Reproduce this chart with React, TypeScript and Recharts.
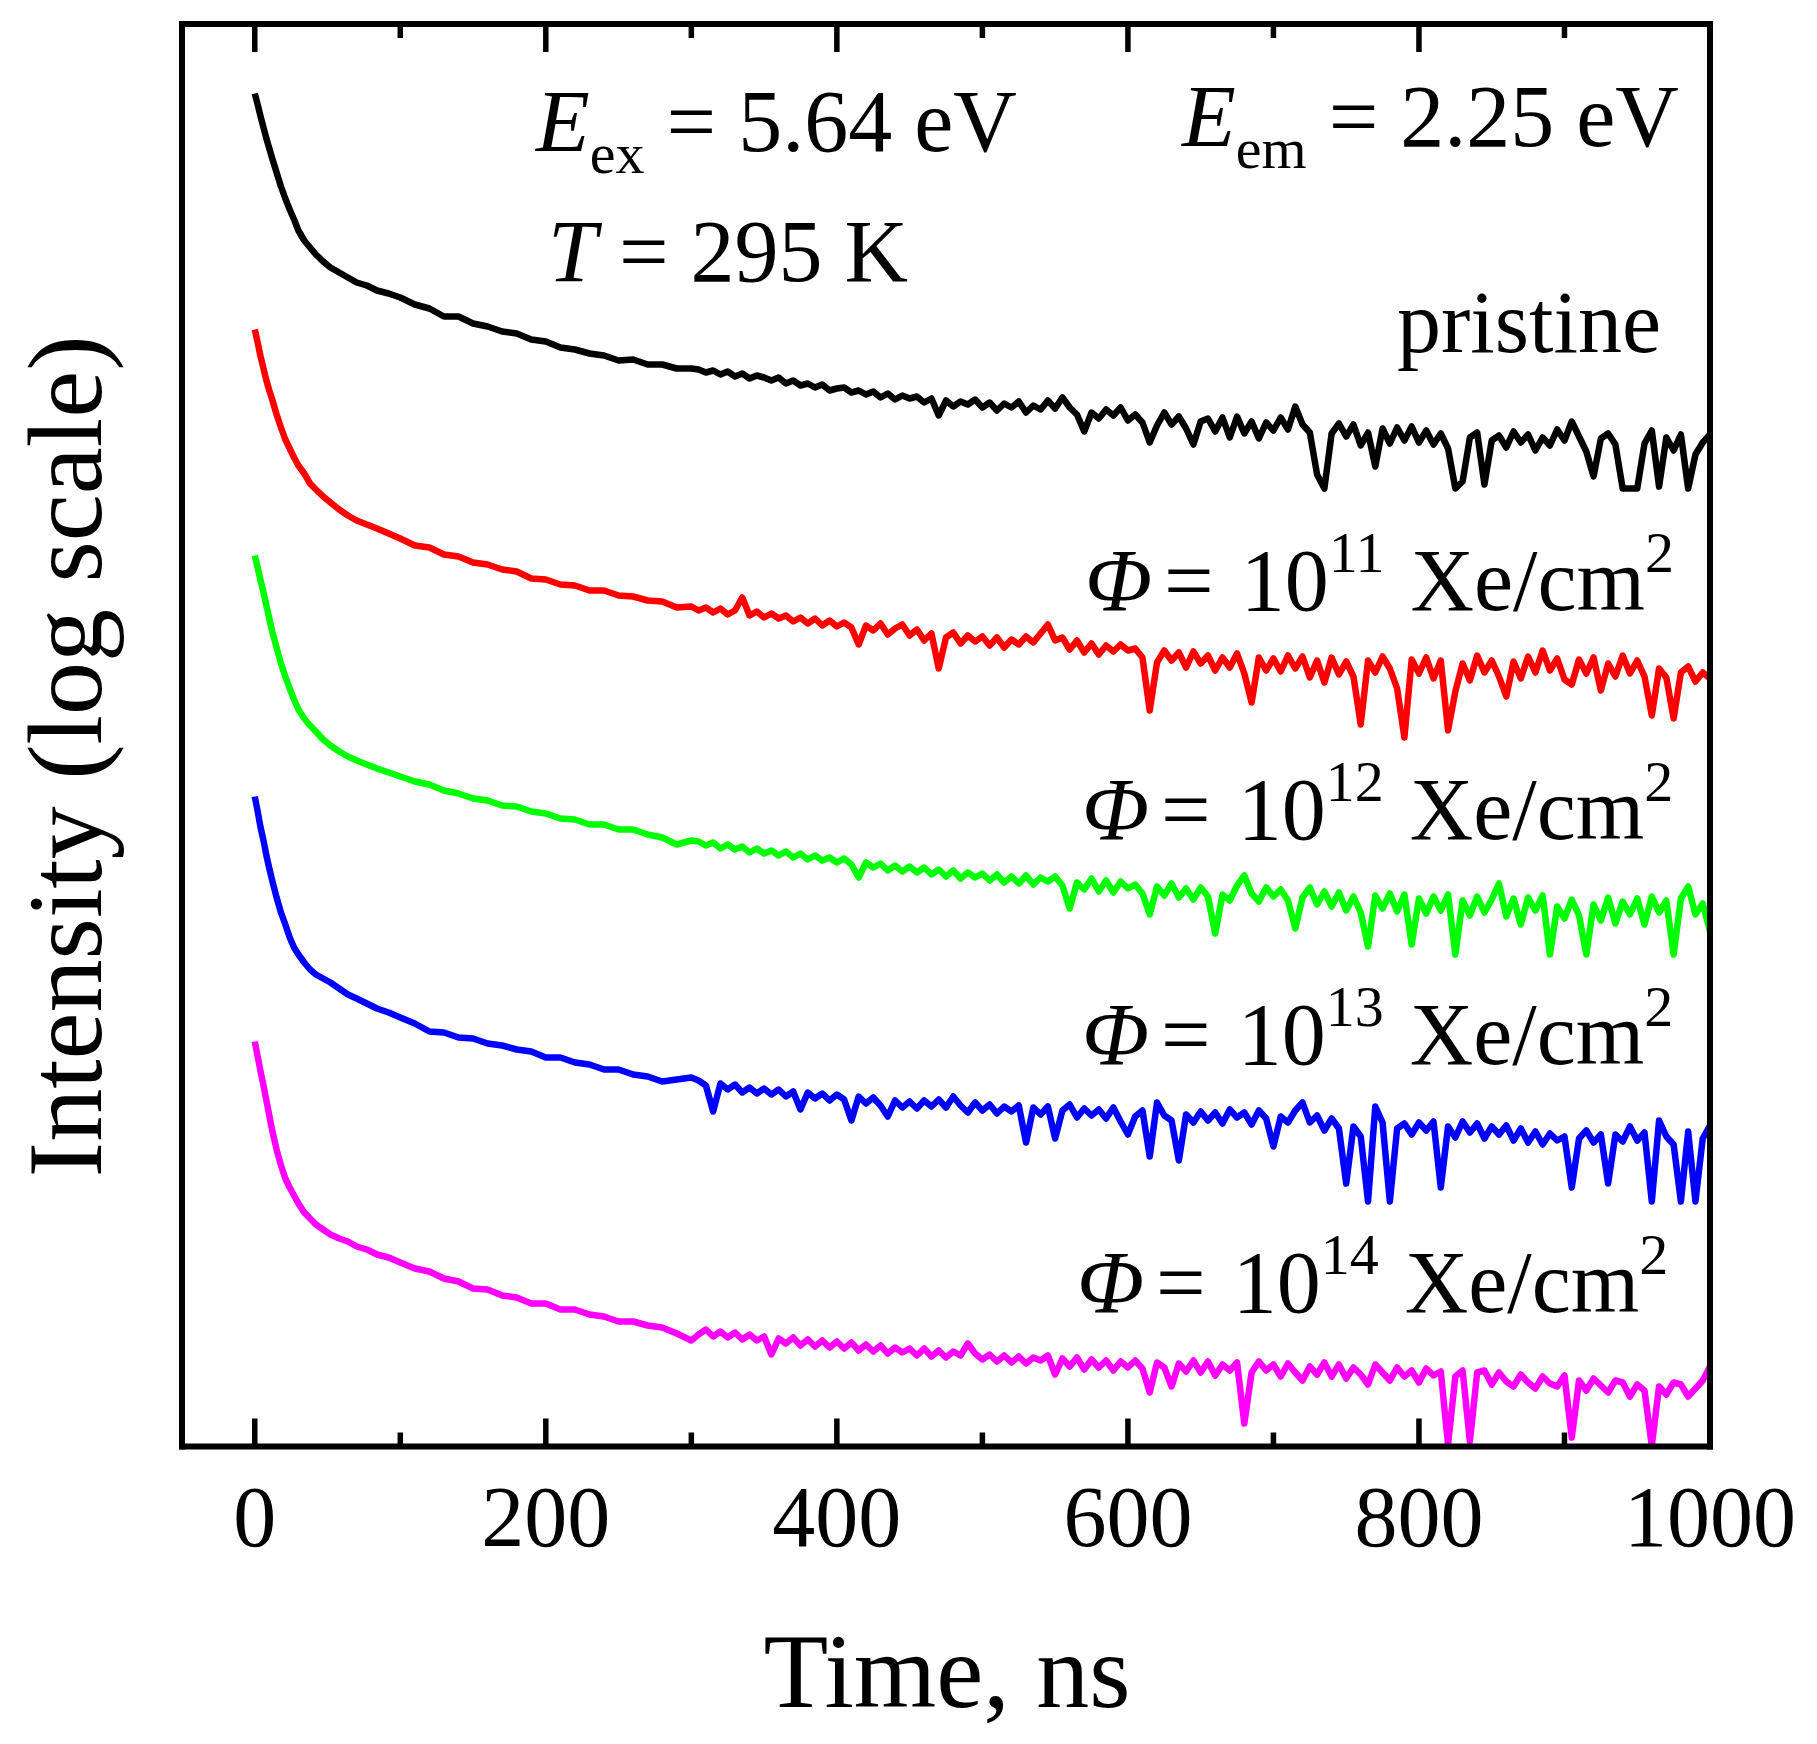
import React from 'react';
import { LineChart, Line, XAxis, YAxis, Label } from 'recharts';

const SERIF = "'Liberation Serif', 'Times New Roman', Times, serif";

// Time axis samples (ns)
const timeNs = [
  0, 2, 4, 6, 8, 10, 12, 15, 18, 21, 24, 27, 30, 34, 38, 42, 47, 52, 58, 64, 70, 77, 84, 92, 100,
  110, 120, 130, 140, 150, 160, 170, 180, 190, 200, 210, 220, 230, 240, 250, 260, 270, 280, 290, 300,
  305, 310, 315, 320, 325, 330, 335, 340, 345, 350,
  355, 360, 365, 370, 375, 380, 385, 390, 395, 400,
  405, 410, 415, 420, 425, 430, 435, 440, 445, 450,
  455, 460, 465, 470, 475, 480, 485, 490, 495, 500,
  505, 510, 515, 520, 525, 530, 535, 540, 545, 550,
  555, 560, 565, 570, 575, 580, 585, 590, 595, 600,
  605, 610, 615, 620, 625, 630, 635, 640, 645, 650,
  655, 660, 665, 670, 675, 680, 685, 690, 695, 700,
  705, 710, 715, 720, 725, 730, 735, 740, 745, 750,
  755, 760, 765, 770, 775, 780, 785, 790, 795, 800,
  805, 810, 815, 820, 825, 830, 835, 840, 845, 850,
  855, 860, 865, 870, 875, 880, 885, 890, 895, 900,
  905, 910, 915, 920, 925, 930, 935, 940, 945, 950,
  955, 960, 965, 970, 975, 980, 985, 990, 995, 1000,
];

// Log intensity (arbitrary units, curves vertically offset as in the figure)
const pristine = [
  135.3, 134.2, 133.0, 131.9, 130.8, 129.8, 128.8, 127.4, 126.0, 124.8, 123.7, 122.7, 121.6, 120.6, 119.9, 119.2, 118.5, 117.9, 117.4, 116.9, 116.4, 116.1, 115.6, 115.3, 114.9,
  114.2, 113.8, 113.0, 113.0, 112.3, 112.0, 111.5, 111.3, 110.7, 110.5, 109.9, 109.7, 109.3, 109.1, 108.6, 108.7, 108.2, 108.2, 107.8, 107.8,
  107.7, 107.4, 107.6, 107.2, 107.5, 107.0, 107.3, 106.8, 107.1, 106.9,
  106.6, 106.9, 106.3, 106.6, 106.1, 106.3, 105.9, 106.2, 105.6, 105.8,
  105.9, 105.4, 105.6, 105.2, 105.5, 104.9, 105.3, 104.7, 105.1, 104.8,
  105.0, 104.4, 104.8, 103.1, 104.6, 104.0, 104.5, 104.2, 104.7, 103.9,
  104.4, 103.6, 104.3, 103.9, 104.5, 103.4, 104.1, 103.7, 104.6, 103.8,
  104.9, 103.9, 103.2, 101.5, 103.4, 102.8, 103.7, 103.1, 103.9, 102.6,
  103.2, 102.4, 100.4, 102.1, 103.4, 102.2, 103.0, 101.8, 100.2, 102.5,
  102.8, 101.5, 102.9, 100.9, 103.0, 101.3, 102.5, 100.8, 102.4, 101.6,
  102.9, 101.7, 104.0, 102.2, 101.4, 97.2, 95.8, 101.3, 102.3, 101.0,
  102.2, 100.1, 101.4, 98.0, 101.8, 100.3, 101.9, 100.6, 102.0, 100.4,
  101.6, 100.2, 101.3, 99.8, 95.8, 96.5, 100.9, 101.4, 96.2, 100.6,
  101.1, 99.9, 101.5, 100.4, 101.2, 99.6, 100.9, 100.1, 101.7, 100.6,
  102.5, 101.0, 99.5, 97.0, 100.8, 101.3, 100.2, 95.8, 95.8, 95.8,
  100.3, 101.6, 96.0, 100.9, 99.6, 101.2, 95.8, 99.2, 100.4, 101.2,
];

const phi11 = [
  111.7, 110.4, 109.0, 107.8, 106.6, 105.6, 104.7, 103.2, 101.9, 100.7, 99.8, 98.9, 98.1, 97.3, 96.3, 95.7, 95.0, 94.4, 93.7, 93.1, 92.6, 92.2, 91.8, 91.3, 90.8,
  90.1, 89.9, 89.2, 89.0, 88.4, 88.2, 87.7, 87.5, 86.8, 86.7, 86.2, 86.1, 85.6, 85.6, 85.1, 85.0, 84.6, 84.5, 83.9, 84.0,
  83.6, 83.9, 83.4, 83.8, 83.2, 83.6, 84.9, 83.1, 83.5, 82.9,
  83.3, 82.8, 83.1, 82.5, 82.9, 82.3, 82.8, 82.1, 82.6, 82.0,
  82.4, 81.9, 80.2, 82.1, 81.6, 82.3, 81.2, 81.8, 82.2, 81.1,
  81.7, 80.6, 81.3, 77.8, 80.9, 81.4, 80.3, 81.1, 80.5, 81.0,
  80.1, 80.9, 79.9, 80.7, 80.2, 81.0, 80.4, 81.3, 82.2, 80.6,
  80.9, 79.7, 80.6, 79.4, 80.3, 79.2, 80.1, 79.5, 80.2, 79.6,
  79.8, 78.9, 73.6, 78.4, 79.6, 78.6, 79.4, 77.9, 79.5, 78.3,
  79.1, 77.6, 78.9, 77.9, 79.3, 77.3, 74.4, 78.9, 77.6, 78.8,
  77.5, 79.1, 77.8, 79.0, 76.9, 78.6, 76.4, 78.9, 77.2, 78.5,
  77.0, 72.2, 78.6, 77.4, 79.0, 77.8, 75.8, 70.9, 78.7, 77.3,
  78.9, 76.8, 78.6, 71.6, 75.5, 78.3, 76.6, 79.1, 77.4, 78.6,
  77.0, 75.0, 78.5, 76.8, 79.0, 77.4, 79.6, 77.6, 78.8, 76.7,
  76.2, 78.7, 77.3, 78.9, 75.6, 78.3, 77.0, 79.1, 77.3, 78.6,
  77.0, 73.1, 77.8, 76.9, 72.8, 77.4, 78.0, 76.5, 77.4, 76.8,
];

const phi12 = [
  89.1, 87.9, 86.6, 85.4, 84.1, 82.8, 81.5, 79.9, 78.3, 77.0, 75.8, 74.7, 73.7, 72.8, 72.1, 71.5, 70.7, 70.1, 69.5, 69.0, 68.6, 68.2, 67.8, 67.4, 67.0,
  66.5, 66.2, 65.6, 65.3, 64.8, 64.6, 64.1, 64.0, 63.5, 63.3, 62.8, 62.7, 62.2, 62.2, 61.7, 61.7, 61.2, 60.9, 60.2, 60.6,
  60.5, 60.1, 60.4, 59.8, 60.2, 59.7, 60.0, 59.4, 59.8, 59.3,
  59.6, 59.1, 59.5, 58.9, 59.3, 58.7, 59.1, 58.6, 58.9, 58.4,
  58.8, 58.2, 56.9, 58.4, 57.9, 58.3, 57.6, 58.1, 57.5, 58.0,
  57.4, 57.9, 57.2, 57.7, 57.0, 57.6, 56.8, 57.4, 56.9, 57.3,
  56.6, 57.2, 56.4, 57.0, 56.3, 57.1, 56.2, 56.9, 56.5, 57.0,
  56.1, 53.8, 56.4, 55.7, 56.8, 55.5, 56.6, 55.4, 56.5, 55.8,
  56.2, 55.3, 53.2, 56.0, 55.1, 56.3, 54.9, 55.8, 54.7, 55.9,
  55.0, 51.3, 55.2, 54.6, 56.1, 57.1, 55.3, 54.5, 55.9, 55.0,
  55.7, 54.6, 51.8, 54.9, 55.9, 54.2, 55.5, 54.0, 55.4, 53.6,
  55.0, 53.4, 50.0, 55.1, 53.8, 55.3, 53.5, 55.2, 50.2, 54.8,
  53.3, 55.0, 53.6, 55.2, 49.2, 54.6, 53.1, 55.0, 53.4, 54.7,
  56.3, 53.0, 54.8, 52.2, 54.9, 53.6, 55.1, 49.2, 54.0, 52.8,
  54.7, 53.1, 49.2, 54.2, 52.6, 54.9, 52.3, 54.5, 53.2, 54.8,
  52.2, 55.0, 53.4, 54.6, 49.2, 54.8, 56.0, 53.2, 54.3, 51.5,
];

const phi13 = [
  65.0, 63.5, 61.9, 60.6, 59.1, 57.8, 56.6, 54.9, 53.4, 52.2, 50.9, 49.9, 49.2, 48.4, 47.7, 47.2, 46.8, 46.4, 45.8, 45.2, 44.8, 44.3, 43.8, 43.4, 42.9,
  42.3, 41.5, 41.4, 40.9, 40.8, 40.3, 40.1, 39.7, 39.5, 38.9, 38.9, 38.4, 38.2, 37.7, 37.7, 37.2, 37.0, 36.5, 36.7, 36.9,
  36.6, 36.1, 33.5, 36.3, 35.7, 36.2, 35.4, 35.9, 35.3, 35.8,
  35.2, 35.7, 35.0, 35.5, 33.7, 35.4, 34.8, 35.3, 34.6, 35.2,
  34.7, 32.6, 35.0, 34.3, 34.9, 34.1, 33.0, 34.6, 33.9, 34.5,
  33.8, 34.6, 34.0, 34.7, 33.9, 35.0, 34.1, 33.4, 34.4, 33.6,
  34.2, 33.3, 34.0, 33.5, 34.1, 30.4, 33.9, 33.2, 34.0, 30.8,
  33.6, 34.2, 32.9, 33.8, 33.1, 33.7, 32.8, 33.9, 32.5, 31.2,
  33.0, 33.6, 29.0, 34.4, 33.1, 32.6, 28.6, 33.2, 32.4, 33.5,
  32.6, 33.4, 32.3, 33.7, 32.9, 33.4, 32.2, 33.6, 32.8, 30.0,
  33.0, 32.4, 33.6, 34.4, 32.4, 33.1, 31.6, 32.8, 31.8, 26.3,
  32.0, 31.0, 24.5, 34.0, 32.4, 24.5, 31.8, 32.3, 31.2, 32.4,
  31.6, 32.5, 25.9, 32.0, 30.9, 32.5, 31.4, 32.3, 30.8, 32.0,
  31.2, 32.1, 30.6, 31.8, 30.4, 31.5, 30.2, 31.3, 30.6, 31.0,
  25.9, 30.8, 31.6, 30.4, 31.2, 26.3, 31.2, 30.5, 32.0, 30.6,
  31.4, 24.5, 32.6, 31.0, 30.2, 24.5, 31.5, 24.5, 30.8, 32.1,
];

const phi14 = [
  40.5, 39.0, 37.5, 36.1, 34.6, 33.1, 31.6, 29.7, 28.1, 26.8, 25.9, 25.1, 24.3, 23.4, 22.8, 22.2, 21.7, 21.2, 20.8, 20.5, 20.0, 19.7, 19.2, 18.9, 18.4,
  17.8, 17.5, 16.8, 16.5, 15.8, 15.7, 15.1, 14.9, 14.3, 14.3, 13.7, 13.7, 13.2, 13.0, 12.5, 12.5, 12.1, 11.9, 11.3, 10.6,
  11.2, 11.7, 11.0, 11.5, 10.9, 11.4, 10.7, 11.2, 10.6, 11.0,
  9.2, 10.8, 10.3, 10.9, 10.1, 10.7, 10.0, 10.6, 9.9, 10.5,
  9.8, 10.4, 9.6, 10.2, 9.5, 10.1, 9.3, 9.9, 9.4, 9.8,
  9.1, 9.8, 9.0, 9.6, 8.9, 9.5, 9.1, 10.3, 9.3, 8.7,
  9.2, 8.5, 9.1, 8.4, 9.0, 8.3, 8.9, 8.6, 9.1, 7.2,
  8.8, 8.0, 8.9, 7.7, 8.7, 7.9, 8.6, 7.6, 8.5, 7.9,
  8.6, 7.8, 5.4, 8.4, 7.9, 6.0, 8.3, 7.5, 8.6, 7.4,
  8.5, 7.1, 8.2, 7.6, 8.4, 2.3, 7.4, 8.5, 7.6, 8.2,
  7.0, 8.3, 7.4, 6.6, 8.0, 7.2, 8.4, 7.0, 8.2, 6.8,
  7.9, 7.2, 6.2, 8.2, 7.4, 6.6, 7.9, 7.0, 7.6, 6.4,
  7.8, 7.1, 7.5, 0.2, 7.0, 7.6, 0.5, 7.4, 7.6, 6.2,
  7.4, 6.5, 6.0, 7.2, 6.4, 5.8, 7.0, 6.3, 6.0, 7.1,
  0.9, 6.6, 5.6, 6.8, 6.1, 5.4, 6.6, 6.4, 5.0, 6.2,
  5.6, 0.1, 6.0, 5.2, 6.4, 6.2, 5.0, 5.8, 6.6, 8.0,
];

const xTicks = [0, 100, 200, 300, 400, 500, 600, 700, 800, 900, 1000];
const xMajor = [0, 200, 400, 600, 800, 1000];
const xDomain = [-50, 1000];
const yDomain = [0, 142.25];

const seriesDefs = [
  { key: 'pristine', color: '#000000' },
  { key: 'phi11', color: '#ff0000' },
  { key: 'phi12', color: '#00ff00' },
  { key: 'phi13', color: '#0000ff' },
  { key: 'phi14', color: '#ff00ff' },
];

const table = timeNs.map((t, i) => ({
  t,
  pristine: pristine[i],
  phi11: phi11[i],
  phi12: phi12[i],
  phi13: phi13[i],
  phi14: phi14[i],
}));

const FRAME = { stroke: '#000', strokeWidth: 6, strokeLinecap: 'square' as const };

const renderBottomTick = (props: any) => {
  const { x, y, payload } = props;
  const major = xMajor.includes(payload.value);
  return (
    <g key={`b-${payload.value}`}>
      <line x1={x} x2={x} y1={y} y2={y - (major ? 28 : 14)} stroke="#000" strokeWidth={5.5} />
      {major && (
        <text x={x} y={y + 99} textAnchor="middle" fontSize={86} fontFamily={SERIF} fill="#000">
          {payload.value}
        </text>
      )}
    </g>
  );
};

const renderTopTick = (props: any) => {
  const { x, y, payload } = props;
  const major = xMajor.includes(payload.value);
  return (
    <g key={`t-${payload.value}`}>
      <line x1={x} x2={x} y1={y} y2={y + (major ? 28 : 14)} stroke="#000" strokeWidth={5.5} />
    </g>
  );
};

const XTitle = (props: any) => {
  const vb = props.viewBox || {};
  return (
    <text
      x={vb.x + vb.width / 2 + 1}
      y={vb.y + 260.5}
      textAnchor="middle"
      fontSize={106}
      fontFamily={SERIF}
      fill="#000"
    >
      Time, ns
    </text>
  );
};

const YTitle = (props: any) => {
  const vb = props.viewBox || {};
  const cx = vb.x + vb.width - 81;
  const cy = vb.y + vb.height / 2 + 21;
  return (
    <text
      x={cx}
      y={cy}
      transform={`rotate(-90, ${cx}, ${cy})`}
      textAnchor="middle"
      fontSize={106}
      fontFamily={SERIF}
      fill="#000"
    >
      Intensity (log scale)
    </text>
  );
};

const PhiLabel = ({ x, y, exp }: { x: number; y: number; exp: string }) => (
  <text x={x} y={y} fontSize={88} fontFamily={SERIF} fill="#000">
    <tspan fontStyle="italic">Φ</tspan>
    <tspan dx={12}>=</tspan>
    <tspan dx={5}>{' 10'}</tspan>
    <tspan dy={-38} fontSize={58}>{exp}</tspan>
    <tspan dy={38} dx={4}>{' Xe/cm'}</tspan>
    <tspan dy={-38} fontSize={58}>2</tspan>
  </text>
);

export default function App() {
  return (
    <div style={{ position: 'relative', width: 1800, height: 1730, background: '#fff' }}>
      <LineChart
        width={1800}
        height={1730}
        data={table}
        margin={{ top: 15, right: 97, bottom: 290.5, left: 173 }}
      >
        <XAxis
          xAxisId="b"
          dataKey="t"
          type="number"
          domain={xDomain}
          ticks={xTicks}
          interval={0}
          orientation="bottom"
          height={1}
          tickSize={0}
          tickMargin={0}
          tickLine={false}
          axisLine={FRAME}
          tick={renderBottomTick}
          allowDataOverflow
        >
          <Label content={XTitle} />
        </XAxis>
        <XAxis
          xAxisId="t"
          dataKey="t"
          type="number"
          domain={xDomain}
          ticks={xTicks}
          interval={0}
          orientation="top"
          height={1}
          tickSize={0}
          tickMargin={0}
          tickLine={false}
          axisLine={FRAME}
          tick={renderTopTick}
          allowDataOverflow
        />
        <YAxis
          yAxisId="l"
          type="number"
          domain={yDomain}
          width={1}
          tick={false}
          tickLine={false}
          axisLine={FRAME}
          allowDataOverflow
        >
          <Label content={YTitle} />
        </YAxis>
        <YAxis
          yAxisId="r"
          orientation="right"
          type="number"
          domain={yDomain}
          width={1}
          tick={false}
          tickLine={false}
          axisLine={FRAME}
          allowDataOverflow
        />
        {seriesDefs.map((s) => (
          <Line
            key={s.key}
            xAxisId="b"
            yAxisId="l"
            type="linear"
            dataKey={s.key}
            stroke={s.color}
            strokeWidth={6.5}
            strokeLinejoin="round"
            dot={false}
            activeDot={false}
            isAnimationActive={false}
          />
        ))}
      </LineChart>
      <svg
        width={1800}
        height={1730}
        style={{ position: 'absolute', left: 0, top: 0, pointerEvents: 'none' }}
      >
        <text x={528} y={143} fontSize={88} fontFamily={SERIF} fill="#000">
          <tspan fontStyle="italic">E</tspan>
          <tspan dy={22} fontSize={58}>ex</tspan>
          <tspan dy={-22}>{' = 5.64 eV'}</tspan>
        </text>
        <text x={1174} y={138} fontSize={88} fontFamily={SERIF} fill="#000">
          <tspan fontStyle="italic">E</tspan>
          <tspan dy={22} fontSize={58}>em</tspan>
          <tspan dy={-22}>{' = 2.25 eV'}</tspan>
        </text>
        <text x={540} y={273} fontSize={88} fontFamily={SERIF} fill="#000">
          <tspan fontStyle="italic">T</tspan>
          <tspan>{' = 295 K'}</tspan>
        </text>
        <text x={1389} y={344} fontSize={88} fontFamily={SERIF} fill="#000">
          pristine
        </text>
        <PhiLabel x={1077} y={602} exp="11" />
        <PhiLabel x={1074} y={831} exp="12" />
        <PhiLabel x={1074} y={1056} exp="13" />
        <PhiLabel x={1069} y={1304} exp="14" />
      </svg>
    </div>
  );
}
